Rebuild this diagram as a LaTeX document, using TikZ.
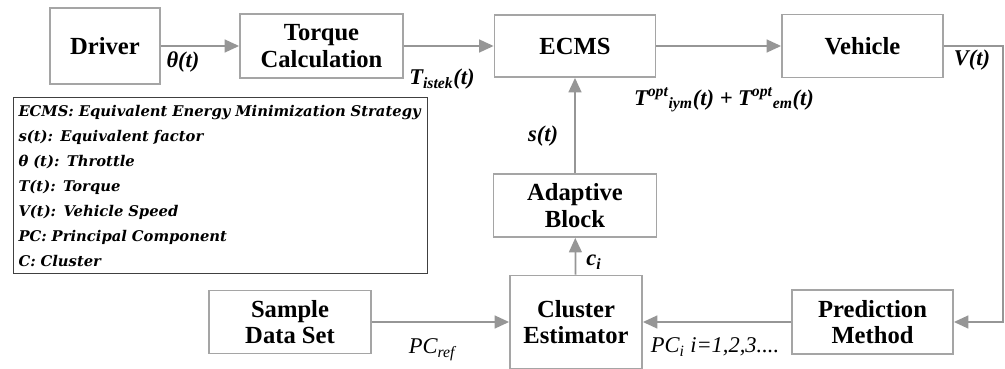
\documentclass[tikz,border=0pt]{standalone}
\usepackage{fontspec}
\setmainfont{Liberation Serif}
\newfontfamily\legendfont{DejaVu Serif}
\usetikzlibrary{arrows.meta}
\definecolor{boxgray}{RGB}{165,165,165}
\definecolor{linegray}{RGB}{150,150,150}

\begin{document}
\begin{tikzpicture}[x=0.25mm,y=-0.25mm,
	block/.style={draw=boxgray, line width=0.45mm, fill=white, align=center, inner sep=0pt,
		font=\fontsize{17.5}{19}\selectfont\bfseries},
	flow/.style={draw=linegray, line width=0.45mm, -{Triangle[length=3.6mm,width=3.2mm]}},
	sig/.style={font=\fontsize{16}{18}\selectfont\bfseries\itshape, inner sep=0pt},
	sigthin/.style={font=\fontsize{16}{18}\selectfont\itshape, inner sep=0pt},
	legend/.style={draw=black!75, line width=0.35mm, text width=101mm, minimum height=44mm,
		inner xsep=1.2mm, align=left, font=\legendfont\fontsize{10.5}{17.8}\selectfont\bfseries\itshape}]
\useasboundingbox (0,0) rectangle (1005,369);

% blocks: name/x/y/width/height/text
\foreach \name/\x/\y/\w/\h/\txt in {
	driver/105/46/110/76/Driver,
	torque/321.5/46/163/64/{Torque\\Calculation},
	ecms/575/46/161/62/ECMS,
	vehicle/862.5/46/161/63/Vehicle,
	adaptive/575/205.5/163/63/{Adaptive\\Block},
	cluster/576/322/132/93/{Cluster\\Estimator},
	sample/290/322/162/63/{Sample\\Data Set},
	prediction/872.5/322/161/64/{Prediction\\Method}}{
	\node[block, minimum width=\w*0.25mm, minimum height=\h*0.25mm] (\name) at (\x,\y) {\txt};
}

% abbreviations
\node[legend, anchor=north west] (key) at (13,97) {ECMS: Equivalent Energy Minimization Strategy\\
	s(t): Equivalent factor\\
	θ (t): Throttle\\
	T(t): Torque\\
	V(t): Vehicle Speed\\
	PC: Principal Component\\
	C: Cluster};

\coordinate (fb) at (1003,46);

\draw[flow] (driver) -- (torque);
\draw[flow] (torque) -- (ecms);
\draw[flow] (ecms) -- (vehicle);
\draw[flow] (vehicle.east) -- (fb) |- (prediction.east);
\draw[flow] (prediction) -- (cluster);
\draw[flow] (sample) -- (cluster);
\draw[flow] (cluster) -- (adaptive);
\draw[flow] (adaptive) -- (ecms);

% signal labels
\node[sig] (lbtheta) at (183,62) {θ(t)};
\node[sig] (lbdemand) at (442,79) {T\textsubscript{istek}(t)};
\node[sig] (lbspeed) at (972,60) {V(t)};
\node[sig] (lbopt) at (724,100) {T\textsuperscript{opt}\textsubscript{iym}(t) + T\textsuperscript{opt}\textsubscript{em}(t)};
\node[sig] (lbfactor) at (543,136) {s(t)};
\node[sig] (lbclass) at (594,262) {c\textsubscript{i}};
\node[sigthin] (lbref) at (432,350) {PC\textsubscript{ref}};
\node[sigthin] (lbpc) at (715,347) {PC\textsubscript{i} i=1,2,3....};

\end{tikzpicture}
\end{document}
